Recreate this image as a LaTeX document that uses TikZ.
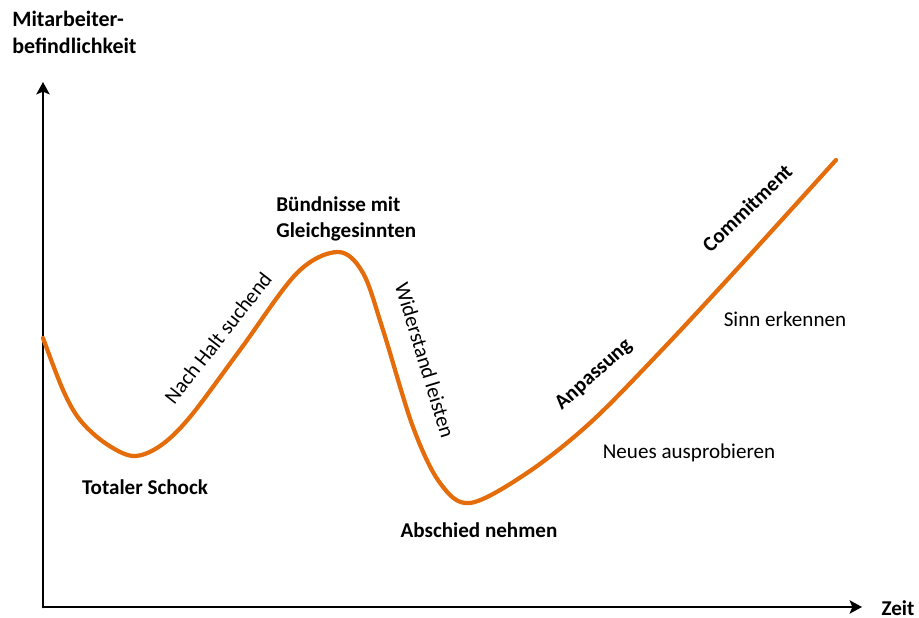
\documentclass[tikz,border=0pt]{standalone}
\usepackage{fontspec}
\setmainfont{Carlito}
\usetikzlibrary{arrows.meta}
\definecolor{kurvenorange}{HTML}{E46C0A}
\begin{document}
\begin{tikzpicture}[x=0.02cm, y=0.02cm, font=\fontsize{12}{15}\selectfont, line cap=round, line join=round, >={Stealth[length=7pt, width=7.5pt, inset=1.5pt]},
		achse/.style={line width=1.7pt, ->},
		kurve/.style={line width=2.4pt, kurvenorange},
		fett/.style={font=\fontsize{12}{15}\selectfont\bfseries}]
	\useasboundingbox (0,0) rectangle (919,618);
	\coordinate (O) at (43,11);
	\coordinate (ytop) at (43,536);
	\coordinate (xend) at (862,11);
	\draw[achse] (O)--(ytop);
	\draw[achse] (O)--(xend);
	\node[fett, font=\fontsize{12.5}{15}\selectfont\bfseries, anchor=north west, align=left, inner sep=0pt] (ylab) at (12,607) {Mitarbeiter-\\befindlichkeit};
	\node[fett, inner sep=1pt] (xlab) at (898,10) {Zeit};
	\draw[kurve] plot[smooth, tension=0.55] coordinates {(43,280) (63,228) (80,198) (105,175) (133,162) (160,172) (190,201) (240,268) (297,345) (338,366) (363,345) (383,288) (413,191) (440,135) (470,115) (527,145) (590,195) (660,266) (738,350) (836,458)};
	\node[fett, anchor=north west, align=left, inner sep=0pt] (buendnis) at (276,422) {Bündnisse mit\\Gleichgesinnten};
	\path (145,123) node[fett, anchor=base] (schock) {Totaler Schock}
		(479,80) node[fett, anchor=base] (abschied) {Abschied nehmen}
		(689,159) node[anchor=base] (neues) {Neues ausprobieren}
		(785,291) node[anchor=base] (sinn) {Sinn erkennen};
	\path (218,280) node[rotate=52] (halt) {Nach Halt suchend}
		(425,258) node[rotate=-73] (widerstand) {Widerstand leisten}
		(594,243) node[fett, rotate=42] (anpassung) {Anpassung}
		(747,410) node[fett, rotate=44] (commitment) {Commitment};
\end{tikzpicture}
\end{document}
